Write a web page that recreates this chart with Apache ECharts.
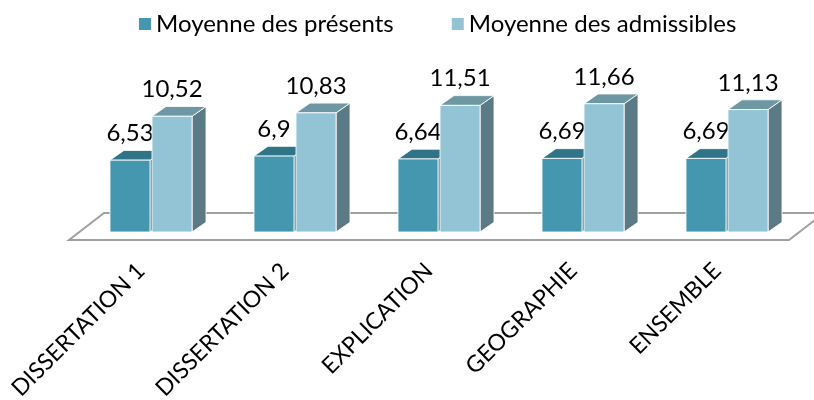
<!DOCTYPE html>
<html>
<head>
<meta charset="utf-8">
<script src="https://cdn.jsdelivr.net/npm/echarts@6/dist/echarts.min.js"></script>
<style>
  html, body { margin: 0; padding: 0; background: #fff; }
  #chart { width: 814px; height: 400px; }
</style>
</head>
<body>
<div id="chart"></div>
<script>
// data
const categories = ['DISSERTATION 1', 'DISSERTATION 2', 'EXPLICATION', 'GEOGRAPHIE', 'ENSEMBLE']
const presents = [6.53, 6.9, 6.64, 6.69, 6.69]
const admissibles = [10.52, 10.83, 11.51, 11.66, 11.13]
const seriesNames = ['Moyenne des présents', 'Moyenne des admissibles']

const FONT = 'Lato, "Liberation Sans", sans-serif'
// face colours: front, top, side
const palette = [
  { front: '#4497AF', top: '#2F7587', side: '#2F6F80' },
  { front: '#93C4D6', top: '#6E97A4', side: '#5A7A85' }
]

const fmt = (v) => String(v).replace('.', ',')

function makeRender(s) {
  return function (params, api) {
    const cat = api.value(0)
    const val = api.value(1)
    const base = api.coord([cat, 0])
    const top = api.coord([cat, val])
    const band = api.size([1, 0])[0]
    const bw = band * 0.278
    const gap = band * 0.014
    const dx = band * 0.097
    const dy = -dx * 0.7
    const x0 = base[0] - (2 * bw + gap + dx) / 2 + s * (bw + gap)
    const yb = base[1]
    const yt = top[1]
    const c = palette[s]
    const edge = { stroke: 'rgba(255,255,255,0.85)', lineWidth: 1 }
    return {
      type: 'group',
      children: [
        {
          type: 'polygon',
          shape: { points: [[x0 + bw, yt], [x0 + bw + dx, yt + dy], [x0 + bw + dx, yb + dy], [x0 + bw, yb]] },
          style: Object.assign({ fill: c.side }, edge)
        },
        {
          type: 'polygon',
          shape: { points: [[x0, yt], [x0 + dx, yt + dy], [x0 + bw + dx, yt + dy], [x0 + bw, yt]] },
          style: Object.assign({ fill: c.top }, edge)
        },
        {
          type: 'rect',
          shape: { x: x0, y: yt, width: bw, height: yb - yt },
          style: Object.assign({ fill: c.front }, edge)
        },
        {
          type: 'text',
          x: x0 + bw / 2,
          y: yt + dy - 5,
          style: {
            text: fmt(val),
            fill: '#000',
            font: '24px ' + FONT,
            align: 'center',
            verticalAlign: 'bottom'
          }
        }
      ]
    }
  }
}

const chart = echarts.init(document.getElementById('chart'))

chart.setOption({
  animation: false,
  legend: {
    top: 7,
    left: 134,
    itemWidth: 12,
    itemHeight: 12,
    itemGap: 58,
    icon: 'rect',
    textStyle: { fontFamily: FONT, fontSize: 24, color: '#000' },
    data: seriesNames
  },
  grid: { left: 86, right: 8, top: 56, bottom: 168, containLabel: false, outerBoundsMode: 'none' },
  xAxis: {
    type: 'category',
    data: categories,
    axisLine: { show: false },
    axisTick: { show: false },
    axisLabel: {
      interval: 0,
      rotate: 45,
      margin: 18,
      padding: [0, 24, 0, 0],
      fontFamily: FONT,
      fontSize: 23,
      color: '#000'
    }
  },
  yAxis: {
    type: 'value',
    min: 0,
    max: 16,
    show: false
  },
  series: [0, 1].map((s) => ({
    type: 'custom',
    name: seriesNames[s],
    itemStyle: { color: palette[s].front },
    renderItem: makeRender(s),
    data: (s === 0 ? presents : admissibles).map((v, i) => [i, v])
  }))
})

// floor of the 3d plot
const p0 = chart.convertToPixel({ xAxisIndex: 0 }, 0)
const p1 = chart.convertToPixel({ xAxisIndex: 0 }, 1)
const band = p1 - p0
const left = p0 - band / 2
const right = left + band * categories.length
const y0 = chart.convertToPixel({ yAxisIndex: 0 }, 0)
chart.setOption({
  graphic: [{
    type: 'polygon',
    z: -1,
    shape: {
      points: [
        [left - 17, y0 + 8],
        [left + 18, y0 - 19],
        [right + 18, y0 - 19],
        [right - 17, y0 + 8]
      ]
    },
    style: { fill: '#fff', stroke: '#A0A0A0', lineWidth: 2 }
  }]
})
</script>
</body>
</html>
